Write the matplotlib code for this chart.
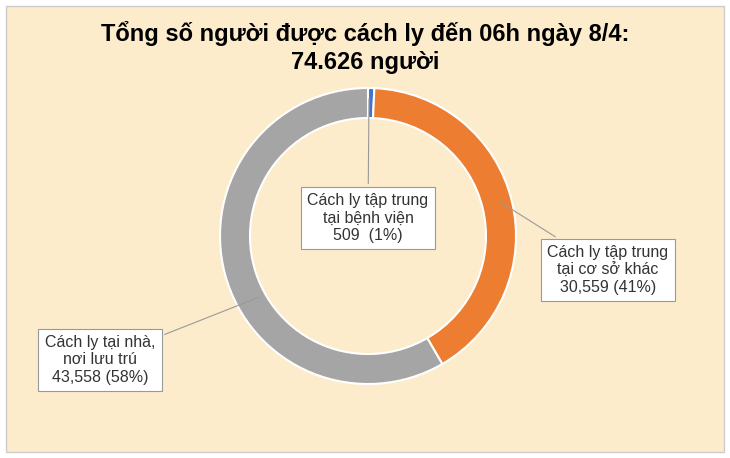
import matplotlib.pyplot as plt
from matplotlib.patches import Rectangle

labels = ["Cách ly tập trung\ntại bệnh viện\n509  (1%)",
          "Cách ly tập trung\ntại cơ sở khác\n30,559 (41%)",
          "Cách ly tại nhà,\nnơi lưu trú\n43,558 (58%)"]
values = [509, 30559, 43558]
colors = ["#4472c4", "#ed7d31", "#a5a5a5"]

plt.rcParams["font.family"] = "Liberation Sans"
fig = plt.figure(figsize=(7.3, 4.58), dpi=100)
fig.patch.set_facecolor("white")
ax = fig.add_axes([0, 0, 1, 1])
ax.add_patch(Rectangle((6, 6), 718, 446, facecolor="#fdeccb", edgecolor="#cccccc", lw=1, zorder=0))

ax.pie(values, colors=colors, startangle=90, counterclock=False, center=(368, 222),
       radius=148, wedgeprops=dict(width=30, edgecolor="white", linewidth=1.5), frame=True)
ax.set_xlim(0, 730)
ax.set_ylim(0, 458)
ax.set_aspect("equal")
ax.axis("off")

ax.text(365, 425, "Tổng số người được cách ly đến 06h ngày 8/4:", ha="center", va="center",
        fontsize=17, fontweight="bold")
ax.text(365, 395, "74.626 người", ha="center", va="center", fontsize=17, fontweight="bold")

box = dict(boxstyle="square,pad=0.4", facecolor="white", edgecolor="#999999", lw=0.8)
line = dict(arrowstyle="-", color="#999999", lw=0.8)
ax.annotate(labels[0], xy=(369, 362), xytext=(368, 240), ha="center", va="center",
            fontsize=11.5, bbox=box, arrowprops=line, color="#333333")
ax.annotate(labels[1], xy=(497, 258), xytext=(608, 188), ha="center", va="center",
            fontsize=11.5, bbox=box, arrowprops=line, color="#333333")
ax.annotate(labels[2], xy=(262, 162), xytext=(100, 98), ha="center", va="center",
            fontsize=11.5, bbox=box, arrowprops=line, color="#333333")

fig.savefig("out.png", dpi=100)
